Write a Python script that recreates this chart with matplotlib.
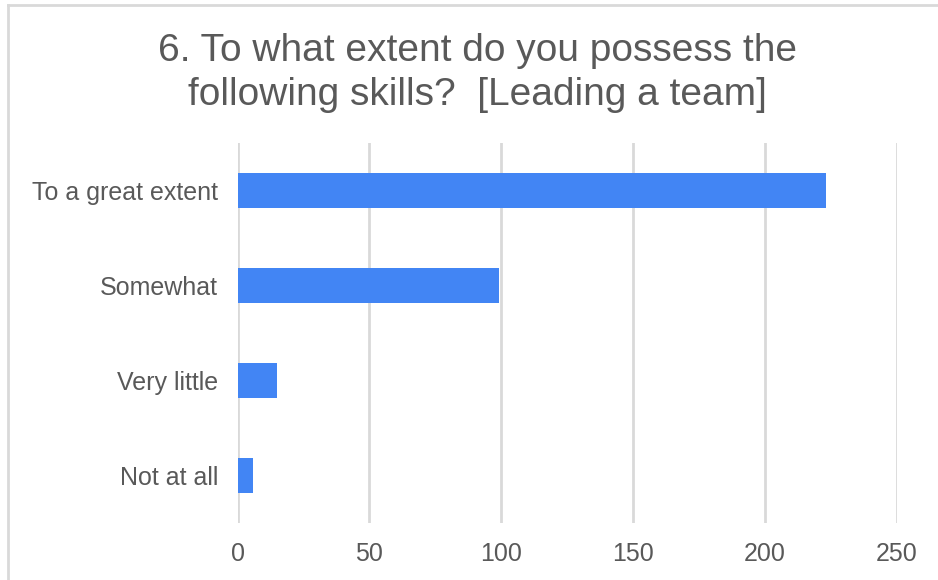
import matplotlib
matplotlib.use("Agg")
import matplotlib.pyplot as plt
from matplotlib.lines import Line2D

# survey answers, top to bottom
categories = ["To a great extent", "Somewhat", "Very little", "Not at all"]
counts = [223, 99, 15, 6]
xticks = [0, 50, 100, 150, 200, 250]

title = "6. To what extent do you possess the\nfollowing skills?  [Leading a team]"

plt.rcParams['font.family'] = ['Liberation Sans', 'DejaVu Sans']
text_col = "#595959"
grid_col = "#d9d9d9"
bar_col = "#4285f4"

W, H = 938, 580
fig = plt.figure(figsize=(W / 100, H / 100), dpi=100)
ax = fig.add_axes([237.5 / W, 1 - 523 / H, (897 - 237.5) / W, 380 / H])

ypos = list(range(len(categories)))
ax.barh(ypos, counts, height=0.37, color=bar_col, zorder=3)
ax.set_ylim(len(categories) - 0.5, -0.5)
ax.set_xlim(0, 250)
ax.set_xticks(xticks)
ax.set_xticklabels([str(t) for t in xticks])
ax.set_yticks(ypos)
ax.set_yticklabels(categories)

ax.grid(axis="x", color=grid_col, linewidth=2, zorder=0)
for s in ax.spines.values():
    s.set_visible(False)
ax.tick_params(axis="both", length=0, labelsize=18, labelcolor=text_col)
ax.tick_params(axis="y", pad=14)
ax.tick_params(axis="x", pad=14)

fig.text(477 / W, 1 - 73 / H, title, ha="center", va="center",
         fontsize=28, color=text_col, linespacing=1.28)

# frame edges at top and left
fig.add_artist(Line2D([8 / W, 8 / W], [0, 1 - 5 / H], transform=fig.transFigure,
                      color=grid_col, linewidth=2))
fig.add_artist(Line2D([8 / W, 1], [1 - 5 / H, 1 - 5 / H], transform=fig.transFigure,
                      color=grid_col, linewidth=2))

fig.savefig("out.png", dpi=100, facecolor="white")
